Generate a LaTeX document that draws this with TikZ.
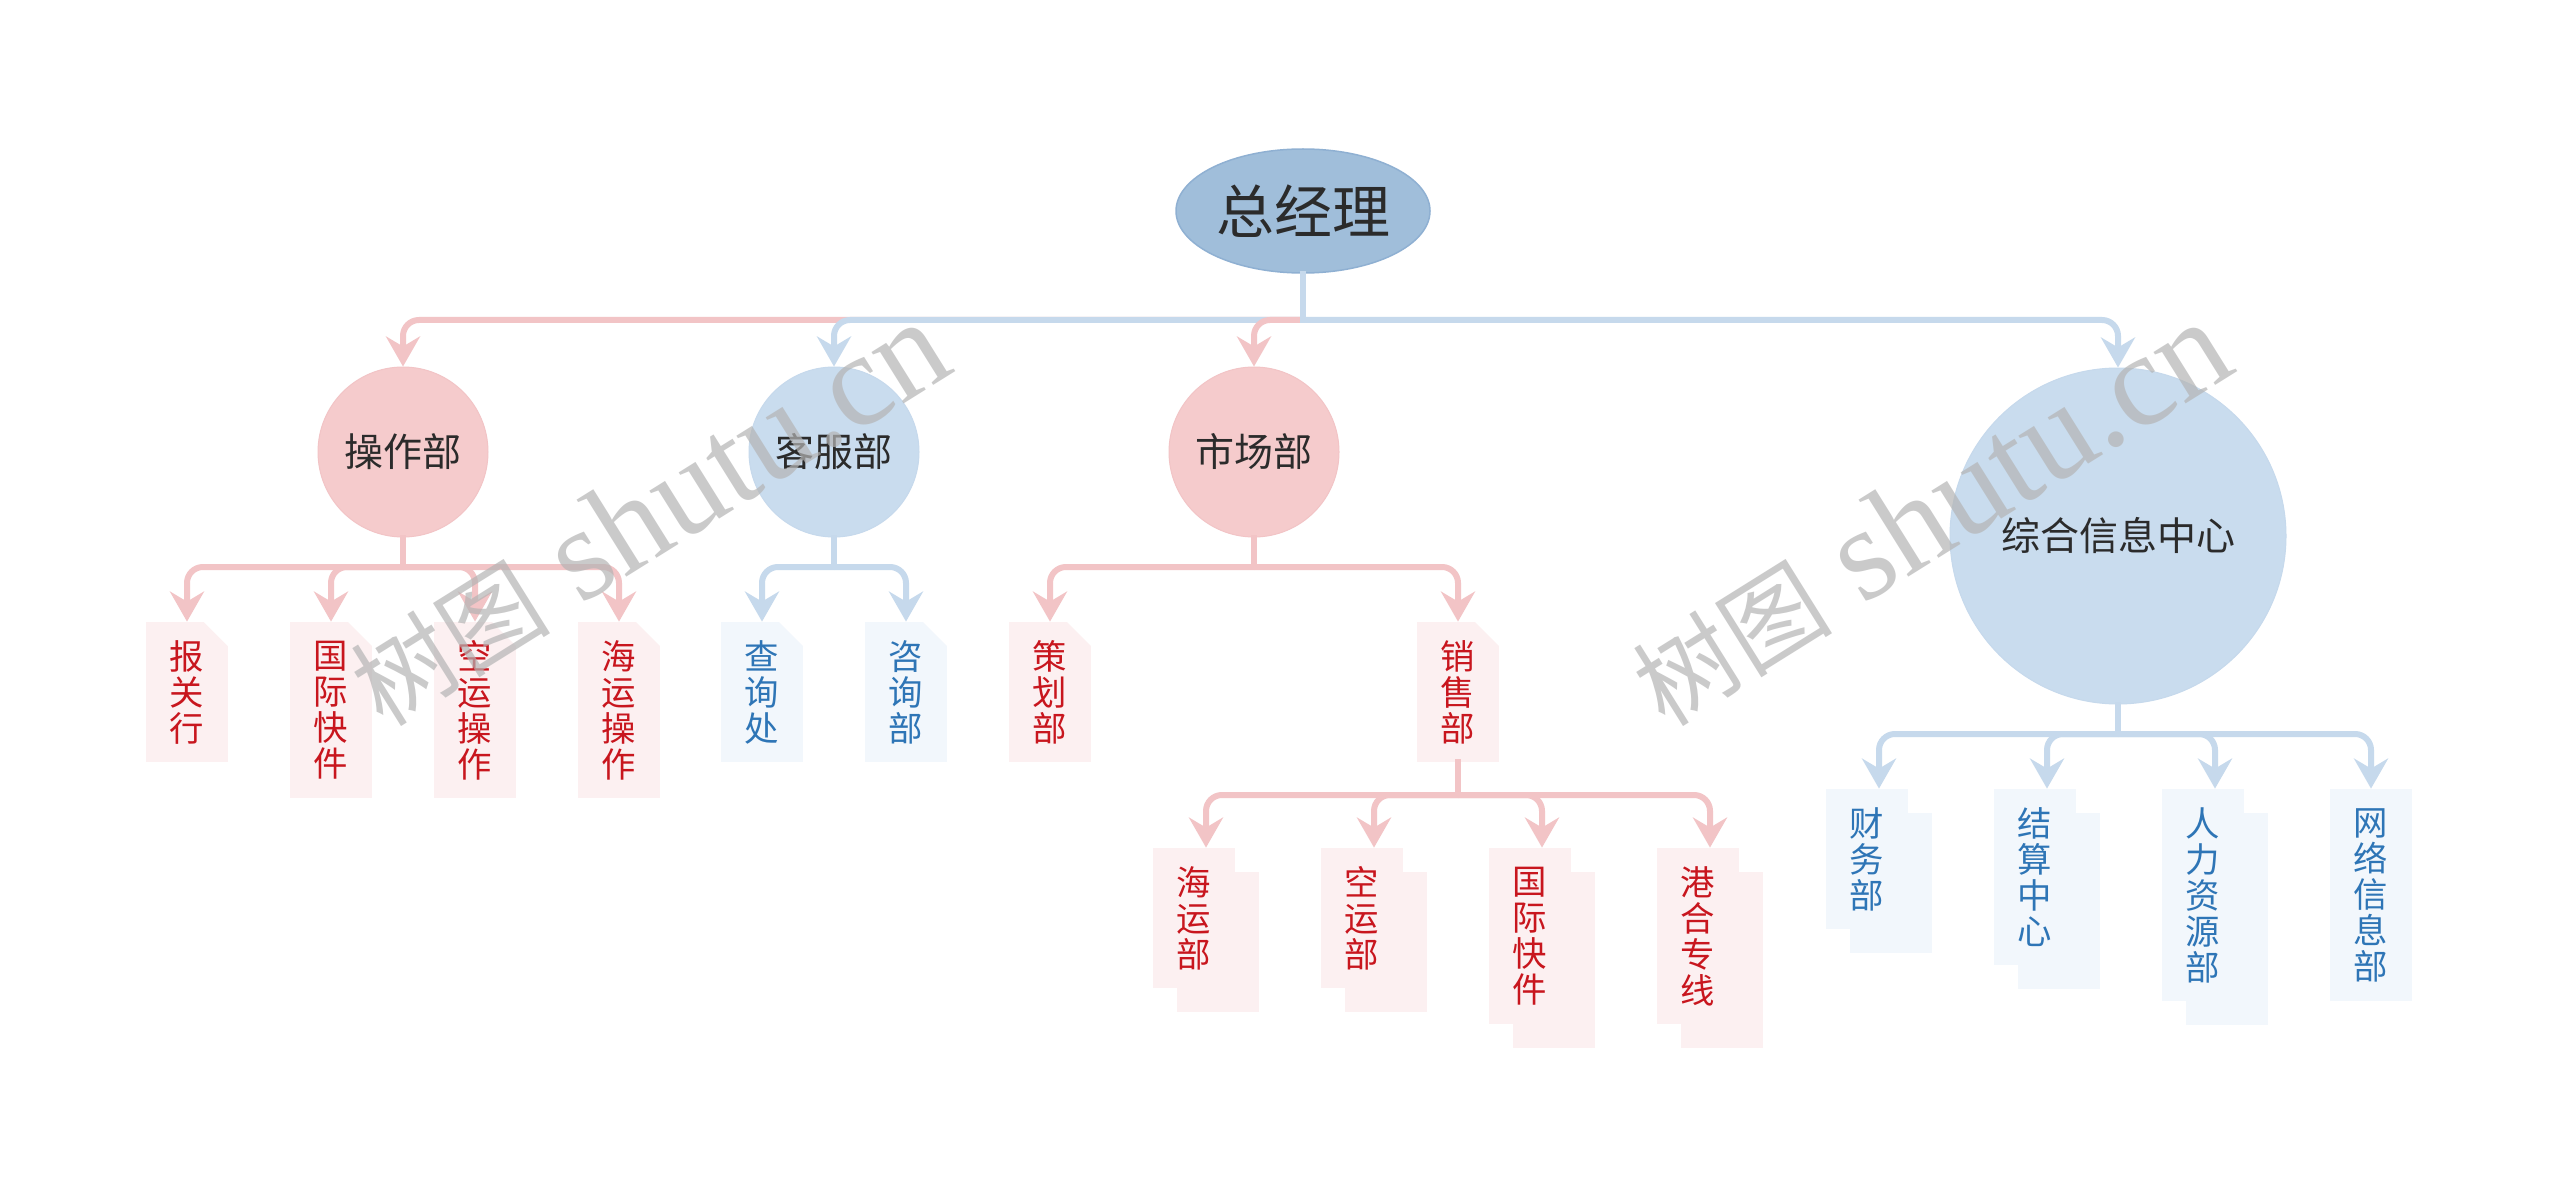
\documentclass[tikz,border=0pt]{standalone}
\usepackage{fontspec}
\newfontfamily\cjkfont{Noto Sans CJK SC}
\newfontfamily\wmlatin{Liberation Serif}
\usetikzlibrary{arrows.meta,shapes.geometric,shadows}
\definecolor{lnred}{HTML}{F2C4C6}
\definecolor{lnblue}{HTML}{C6D9EC}
\definecolor{circred}{HTML}{F5CBCC}
\definecolor{circblue}{HTML}{C9DCEE}
\definecolor{rootfill}{HTML}{A0BEDA}
\definecolor{rootdraw}{HTML}{8FB0D2}
\definecolor{leafredbg}{HTML}{FCF0F1}
\definecolor{leafbluebg}{HTML}{F2F7FC}
\definecolor{txtred}{HTML}{C8161E}
\definecolor{txtblue}{HTML}{2E75B6}
\definecolor{txtdark}{HTML}{2B2B2B}
\definecolor{wmgray}{HTML}{B4B4B4}
\begin{document}
\begin{tikzpicture}[x=0.5pt,y=-0.5pt,
 rootnode/.style={ellipse, fill=rootfill, draw=rootdraw, line width=0.75pt, minimum width=127pt, minimum height=62pt, inner sep=0pt, font=\cjkfont\fontsize{29pt}{32pt}\selectfont, text=txtdark},
 lvone/.style={circle, inner sep=0pt, minimum size=85pt, font=\cjkfont\fontsize{19.5pt}{22pt}\selectfont, text=txtdark},
 lvred/.style={lvone, fill=circred, draw=lnred, line width=0.5pt},
 lvblue/.style={lvone, fill=circblue, draw=lnblue, line width=0.5pt},
 leaf/.style={inner sep=0pt, minimum width=41pt, align=center, font=\cjkfont\fontsize{17.2pt}{18pt}\selectfont},
 leafred/.style={leaf, fill=leafredbg, text=txtred},
 leafblue/.style={leaf, fill=leafbluebg, text=txtblue},
 docfold/.style={path picture={\fill[white] (path picture bounding box.north east) -- ++(-12pt,0pt) -- ++(12pt,-12pt) -- cycle;}},
 stackedred/.style={copy shadow={shadow xshift=12pt, shadow yshift=-12pt, fill=leafredbg, draw=none}},
 stackedblue/.style={copy shadow={shadow xshift=12pt, shadow yshift=-12pt, fill=leafbluebg, draw=none}},
 conn/.style={line width=3pt, rounded corners=8pt, -{Stealth[length=15pt, width=17pt, inset=5pt]}},
 redconn/.style={conn, draw=lnred},
 blueconn/.style={conn, draw=lnblue},
 stemred/.style={line width=3pt, line cap=rect, draw=lnred},
 stemblue/.style={line width=3pt, line cap=rect, draw=lnblue},
 watermark/.style={text=wmgray, opacity=0.7, rotate=32, inner sep=0pt}
]
\fill[white] (0,0) rectangle (2560,1198);
\useasboundingbox (0,0) rectangle (2560,1198);

% root and level one
\node[rootnode] (root) at (1303,211) {总经理};
\node[lvred] (op) at (403,452) {操作部};
\node[lvblue] (kf) at (834,452) {客服部};
\node[lvred] (sc) at (1254,452) {市场部};
\node[lvblue, minimum size=168pt] (zh) at (2118,536) {综合信息中心};

% leaves under 操作部
\node[leafred, docfold, minimum height=70pt] (op1) at (187,692) {报\\关\\行};
\node[leafred, docfold, minimum height=88pt] (op2) at (331,710) {国\\际\\快\\件};
\node[leafred, docfold, minimum height=88pt] (op3) at (475,710) {空\\运\\操\\作};
\node[leafred, docfold, minimum height=88pt] (op4) at (619,710) {海\\运\\操\\作};
% leaves under 客服部
\node[leafblue, docfold, minimum height=70pt] (kf1) at (762,692) {查\\询\\处};
\node[leafblue, docfold, minimum height=70pt] (kf2) at (906,692) {咨\\询\\部};
% leaves under 市场部
\node[leafred, docfold, minimum height=70pt] (sc1) at (1050,692) {策\\划\\部};
\node[leafred, docfold, minimum height=70pt] (sc2) at (1458,692) {销\\售\\部};
% leaves under 销售部
\node[leafred, stackedred, minimum height=70pt] (xs1) at (1194,918) {海\\运\\部};
\node[leafred, stackedred, minimum height=70pt] (xs2) at (1362,918) {空\\运\\部};
\node[leafred, stackedred, minimum height=88pt] (xs3) at (1530,936) {国\\际\\快\\件};
\node[leafred, stackedred, minimum height=88pt] (xs4) at (1698,936) {港\\合\\专\\线};
% leaves under 综合信息中心
\node[leafblue, stackedblue, minimum height=70pt] (zh1) at (1867,859) {财\\务\\部};
\node[leafblue, stackedblue, minimum height=88pt] (zh2) at (2035,877) {结\\算\\中\\心};
\node[leafblue, stackedblue, minimum height=106pt] (zh3) at (2203,895) {人\\力\\资\\源\\部};
\node[leafblue, minimum height=106pt] (zh4) at (2371,895) {网\\络\\信\\息\\部};

% connectors root -> level one
\coordinate (j0) at (1303,320);
\draw[redconn] (j0) -| (op.north);
\draw[blueconn] (j0) -| (kf.north);
\draw[redconn] (j0) -| (sc.north);
\draw[blueconn] (j0) -| (zh.north);
\draw[stemblue] (root.south) -- (j0);

% 操作部
\coordinate (j1) at (403,567);
\foreach \c in {op1,op2,op3,op4} \draw[redconn] (j1) -| (\c.north);
\draw[stemred] (op.south) -- (j1);
% 客服部
\coordinate (j2) at (834,567);
\foreach \c in {kf1,kf2} \draw[blueconn] (j2) -| (\c.north);
\draw[stemblue] (kf.south) -- (j2);
% 市场部
\coordinate (j3) at (1254,567);
\foreach \c in {sc1,sc2} \draw[redconn] (j3) -| (\c.north);
\draw[stemred] (sc.south) -- (j3);
% 销售部
\coordinate (j4) at (1458,795);
\foreach \c in {xs1,xs2,xs3,xs4} \draw[redconn] (j4) -| ([xshift=6pt]\c.north);
\draw[stemred] (sc2.south) -- (j4);
% 综合信息中心
\coordinate (j5) at (2118,734);
\foreach \c in {zh1,zh2,zh3} \draw[blueconn] (j5) -| ([xshift=6pt]\c.north);
\draw[blueconn] (j5) -| (zh4.north);
\draw[stemblue] (zh.south) -- (j5);

% watermarks
\node[watermark] (wm1) at (648,514) {{\cjkfont\fontsize{50pt}{60pt}\selectfont 树图}{\wmlatin\fontsize{66pt}{70pt}\selectfont\ shutu.cn}};
\node[watermark] (wm2) at (1930,514) {{\cjkfont\fontsize{50pt}{60pt}\selectfont 树图}{\wmlatin\fontsize{66pt}{70pt}\selectfont\ shutu.cn}};
\end{tikzpicture}
\end{document}
